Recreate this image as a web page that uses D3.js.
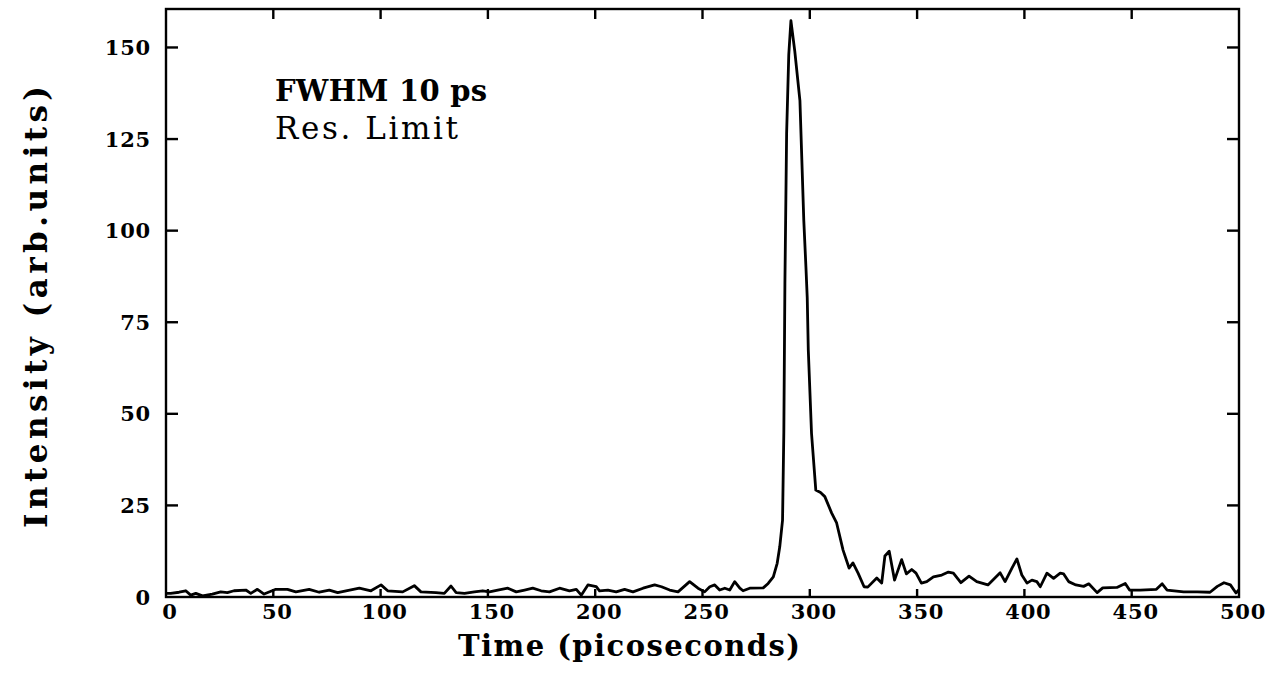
<!DOCTYPE html>
<html>
<head>
<meta charset="utf-8">
<script src="https://cdn.jsdelivr.net/npm/d3@7"></script>
<style>
  body { margin: 0; background: #fff; }
  svg { display: block; }
  text { font-family: "DejaVu Serif", serif; fill: #000; }
</style>
</head>
<body>
<svg id="chart"></svg>
<script>
const timePs = [0,2.2,6.1,9.2,11.5,13.9,17,21.6,25.5,28.6,31.7,37.2,39.5,42.6,45.7,51.2,56.6,60.5,66.7,71.4,
  76.1,80,83.9,90.1,95.5,100.2,103.3,110.3,115.7,118.8,125.8,129.7,132.8,135.2,139.1,143.7,147.6,150.7,154.6,159.3,
  163.2,167.1,170.9,174.8,178.7,183.4,188,191.2,193.5,196.6,200.5,202,205.9,209.8,213.7,217.6,222.3,227.7,230.9,234.7,
  238.6,244,247.9,251,253.4,255.7,258,260.4,262.7,265,267.4,268.9,272,278.3,280.6,283,284.8,286,287.3,287.9,
  288.4,289.2,290.2,291.2,293,295.4,297.2,298.2,298.8,299.3,300.8,302.8,305,307,310.2,312.5,315.5,318.3,320.1,322.5,
  325.3,327,331.2,333.5,335,337,339.5,342.8,345,347.5,349.5,352,354.5,357.6,361.5,364.6,366.9,370.4,374.2,377.8,
  383,388.7,391,394.2,396.5,398.8,401.2,403.5,405.8,407.4,410.5,413.6,416.7,418.3,420.6,424,427.6,430,433.9,436.5,
  443.1,447,449,454,461.5,464.2,466.5,474.2,480.5,486.5,489.9,493,496,498.6,500];
const intensity = [1.0,1.0,1.3,1.7,0.5,1.0,0.3,0.8,1.4,1.2,1.7,1.9,1.0,2.1,0.8,2.1,2.1,1.4,2.1,1.3,
  1.9,1.2,1.7,2.4,1.7,3.3,1.7,1.4,3.1,1.4,1.2,1.0,3.0,1.2,1.0,1.4,1.7,1.4,1.9,2.4,
  1.4,1.9,2.4,1.7,1.4,2.4,1.7,2.1,0.5,3.3,2.8,1.7,1.9,1.4,2.1,1.4,2.4,3.3,2.8,1.9,
  1.4,4.2,2.4,1.4,2.8,3.3,1.9,2.4,1.9,4.2,2.4,1.7,2.4,2.5,3.7,5.5,9.2,13.7,21,45,
  85.6,126.5,148,157.3,149,135.5,102.8,90,81.8,67.4,44.7,29.2,28.5,27.4,22.9,20.2,12.8,7.9,9.3,6.5,
  2.8,2.7,5.2,3.8,11.2,12.5,4.6,10.2,6.3,7.5,6.5,3.8,4.2,5.5,6.0,6.8,6.5,3.9,5.7,4.2,
  3.3,6.6,4.2,7.9,10.4,6.0,3.8,4.6,4.2,2.8,6.5,5.1,6.5,6.3,4.2,3.3,2.9,3.6,1.2,2.5,
  2.6,3.7,1.9,1.9,2.1,3.6,1.9,1.4,1.4,1.3,2.9,3.9,3.3,1.1,2.0];

const xTicks = [0,50,100,150,200,250,300,350,400,450,500];
const yTicks = [0,25,50,75,100,125,150];
const note1 = "FWHM 10 ps";
const note2 = "Res. Limit";
const xTitle = "Time (picoseconds)";
const yTitle = "Intensity (arb.units)";

const width = 1283, height = 674;
const plotL = 166, plotR = 1239, plotT = 9, plotB = 597;

const svg = d3.select("#chart").attr("width", width).attr("height", height);

const x = d3.scaleLinear().domain([0, 500]).range([plotL, plotR]);
const y = d3.scaleLinear().domain([0, 160.5]).range([plotB, plotT]);

// frame
svg.append("rect")
  .attr("x", plotL).attr("y", plotT)
  .attr("width", plotR - plotL).attr("height", plotB - plotT)
  .attr("fill", "none").attr("stroke", "#000").attr("stroke-width", 2.4);

// inward ticks on all four sides
const g = svg.append("g").attr("stroke", "#000").attr("stroke-width", 2.4);
g.selectAll(".tb").data(xTicks.slice(1, -1)).enter().append("line")
  .attr("x1", d => x(d)).attr("x2", d => x(d))
  .attr("y1", plotB).attr("y2", plotB - 8);
g.selectAll(".tt").data(xTicks.slice(1, -1)).enter().append("line")
  .attr("x1", d => x(d)).attr("x2", d => x(d))
  .attr("y1", plotT).attr("y2", plotT + 10);
g.selectAll(".tl").data(yTicks.slice(1)).enter().append("line")
  .attr("x1", plotL).attr("x2", plotL + 12)
  .attr("y1", d => y(d)).attr("y2", d => y(d));
g.selectAll(".tr").data(yTicks.slice(1)).enter().append("line")
  .attr("x1", plotR).attr("x2", plotR - 12)
  .attr("y1", d => y(d)).attr("y2", d => y(d));

// tick labels
svg.selectAll(".xl").data(xTicks).enter().append("text")
  .attr("x", d => x(d) + 4).attr("y", 619)
  .attr("text-anchor", "middle")
  .attr("font-size", 21).attr("font-weight", "bold")
  .attr("letter-spacing", 0.8)
  .text(d => d);
svg.selectAll(".yl").data(yTicks).enter().append("text")
  .attr("x", 151).attr("y", d => y(d) + 7.5)
  .attr("text-anchor", "end")
  .attr("font-size", 21).attr("font-weight", "bold")
  .attr("letter-spacing", 0.8)
  .text(d => d);

// axis titles
svg.append("text")
  .attr("x", 458).attr("y", 656)
  .attr("font-size", 29).attr("font-weight", "bold")
  .attr("textLength", 342).attr("lengthAdjust", "spacing")
  .text(xTitle);
svg.append("text")
  .attr("transform", "translate(47,528) rotate(-90)")
  .attr("font-size", 31).attr("font-weight", "bold")
  .attr("textLength", 442).attr("lengthAdjust", "spacing")
  .text(yTitle);

// annotation
svg.append("text").attr("x", 275).attr("y", 101)
  .attr("font-size", 29).attr("font-weight", "bold")
  .attr("textLength", 212).attr("lengthAdjust", "spacing")
  .text(note1);
svg.append("text").attr("x", 275).attr("y", 139)
  .attr("font-size", 31)
  .attr("textLength", 183).attr("lengthAdjust", "spacing")
  .text(note2);

// trace
const pts = timePs.map((t, i) => [t, intensity[i]]);
const line = d3.line().x(d => x(d[0])).y(d => y(d[1]));
svg.append("path")
  .attr("d", line(pts))
  .attr("fill", "none")
  .attr("stroke", "#000")
  .attr("stroke-width", 2.8)
  .attr("stroke-linejoin", "round");
</script>
</body>
</html>
